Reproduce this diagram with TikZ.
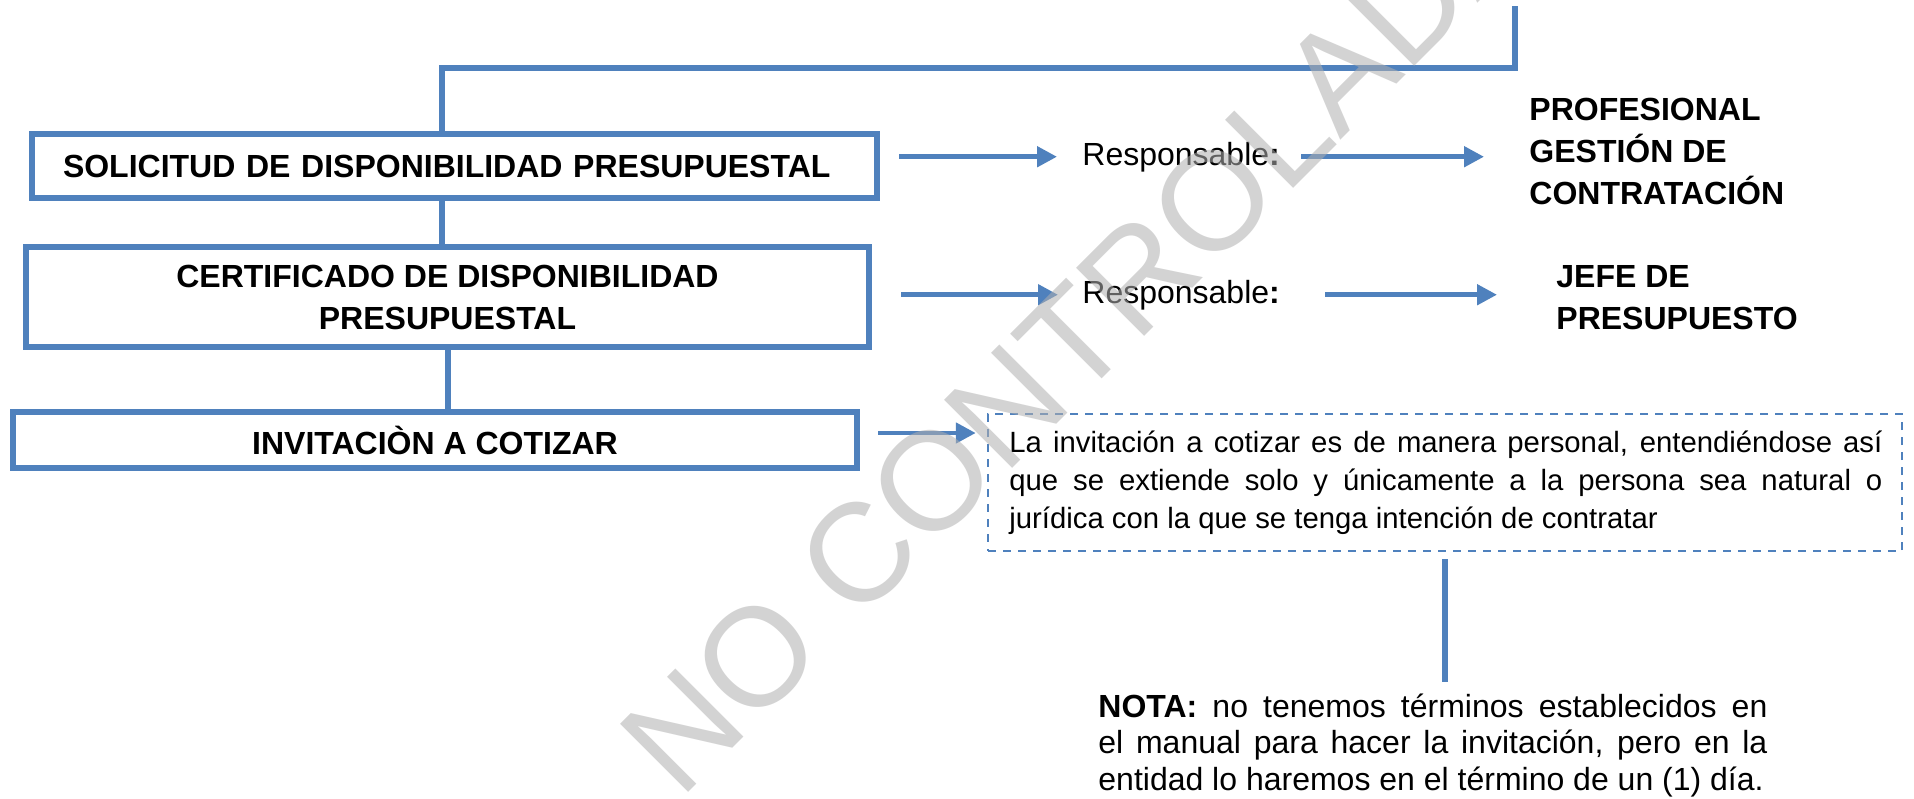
\documentclass[tikz,border=0pt]{standalone}
\usepackage{fontspec}
\setmainfont{Liberation Sans}
\usetikzlibrary{arrows.meta}
\definecolor{oblue}{RGB}{79,129,189}
\definecolor{wmgray}{RGB}{176,176,176}
\tolerance=10000
\hyphenpenalty=10000
\exhyphenpenalty=10000
\begin{document}
\begin{tikzpicture}[x=0.5pt,y=-0.5pt,
  procbox/.style={draw=oblue,line width=3pt,rectangle,inner sep=0pt,align=center,font=\fontsize{16}{21}\selectfont\bfseries},
  conn/.style={draw=oblue,line width=3pt},
  flow/.style={draw=oblue,line width=2.4pt,-{Triangle[length=10pt,width=10pt]}},
  resp/.style={inner sep=0pt,anchor=base west,font=\fontsize{16}{21}\selectfont},
  who/.style={inner sep=0pt,anchor=base west,align=left,font=\fontsize{16}{21}\selectfont\bfseries},
  notebox/.style={draw=oblue,line width=1.25pt,dash pattern=on 4pt off 3.5pt,rectangle,inner sep=0pt},
  para/.style={inner sep=0pt,anchor=base west,align=justify},
  watermark/.style={inner sep=0pt,text=wmgray,text opacity=0.55,font=\fontsize{70}{70}\selectfont}
]
\path[use as bounding box,fill=white] (0,0) rectangle (1914,798);
\clip (0,0) rectangle (1914,798);

% process boxes
\node[procbox,align=left,text width=391.5pt,inner xsep=15.5pt,minimum height=32pt] (sol) at (454.5,166) {SOLICITUD DE DISPONIBILIDAD PRESUPUESTAL};
\node[procbox,minimum width=421.5pt,minimum height=50pt] (cdp) at (447.5,297) {CERTIFICADO DE DISPONIBILIDAD\\PRESUPUESTAL};
\node[procbox,minimum width=422pt,minimum height=28pt] (inv) at (435,440) {INVITACIÒN A COTIZAR};

% connectors between boxes
\coordinate (feed) at (1515,6);
\coordinate (bend) at (442,68);
\draw[conn] (feed) |- (bend) -- (bend |- sol.north);
\draw[conn] (sol.south -| bend) -- (cdp.north -| bend);
\draw[conn] (cdp.south) -- (inv.north -| cdp.south);

% responsables
\node[resp] (r1) at (1082,165) {Responsable\textbf{:}};
\node[resp] (r2) at (1082,303) {Responsable\textbf{:}};
\node[who] (w1) at (1529,204) {PROFESIONAL\\GESTIÓN DE\\CONTRATACIÓN};
\node[who] (w2) at (1556,329) {JEFE DE\\PRESUPUESTO};

\coordinate (s1) at (899,0);
\coordinate (s2) at (901,0);
\draw[flow] (r1.west -| s1) -- ([xshift=-12.5pt]r1.west);
\draw[flow] (r2.west -| s2) -- ([xshift=-12pt]r2.west);
\draw[flow,shorten <=10.5pt,shorten >=22.5pt] (r1.east) -- (r1.east -| w1.west);
\draw[flow,shorten <=22.5pt,shorten >=29.5pt] (r2.east) -- (r2.east -| w2.west);

% dashed note
\node[notebox,minimum width=457pt,minimum height=68.5pt] (dbox) at (1445,482.5) {};
\node[para,text width=436.5pt,font=\fontsize{14.65}{19}\selectfont] (dtext) at (1009,452) {La invitación a cotizar es de manera personal, entendiéndose así\linebreak que se extiende solo y únicamente a la persona sea natural o\linebreak jurídica con la que se tenga intención de contratar};
\coordinate (s5) at (878,433);
\draw[flow,shorten >=5.5pt] (s5) -- (s5 -| dbox.west);

% nota
\node[para,text width=334.5pt,font=\fontsize{16}{18.25}\selectfont] (nota) at (1098,717) {\textbf{NOTA:} no tenemos términos establecidos en\linebreak el manual para hacer la invitación, pero en la\linebreak entidad lo haremos en el término de un (1) día.};
\draw[conn] ([yshift=-3.5pt]dbox.south) -- ([yshift=5.5pt]nota.north -| dbox.south);

% watermark
\node[watermark,rotate=45] (wm) at (1078,335) {NO CONTROLADA};
\end{tikzpicture}
\end{document}
